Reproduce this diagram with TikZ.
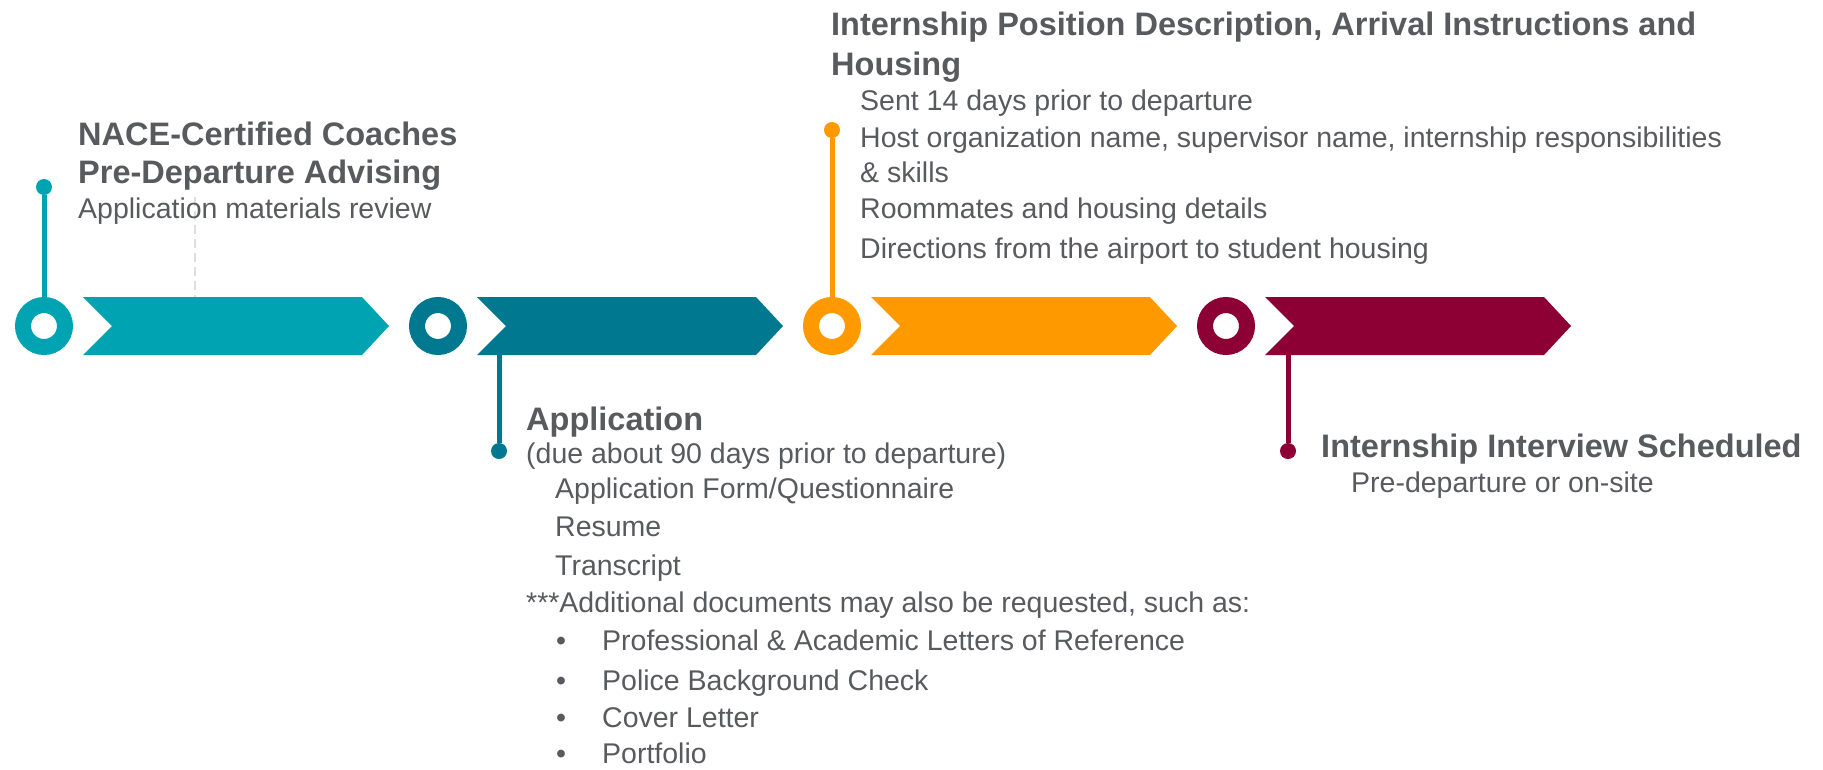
\documentclass[tikz,border=0pt]{standalone}
\usepackage{fontspec}
\setmainfont{Liberation Sans}
\usepackage{tikz}
\usetikzlibrary{positioning}
\definecolor{tealA}{RGB}{0,163,178}
\definecolor{tealB}{RGB}{0,120,143}
\definecolor{orangeC}{RGB}{255,153,0}
\definecolor{maroonD}{RGB}{140,0,52}
\definecolor{textgray}{RGB}{88,90,93}
\newcommand{\bodysize}{\fontsize{28.5}{34}\selectfont}
\newcommand{\titlesize}{\fontsize{32.5}{38}\selectfont\bfseries}
% chevron: left x, colour
\newcommand{\chevron}[2]{\fill[#2] (#1,297) -- ++(279,0) -- ++(27,29) -- ++(-27,29) -- ++(-279,0) -- ++(29,-29) -- cycle;}
\tikzset{
  ring/.style={circle, draw=#1, line width=16pt, minimum size=42pt, inner sep=0pt, fill=white},
  pin/.style={circle, fill=#1, minimum size=16pt, inner sep=0pt},
  stem/.style={line width=5pt},
  txt/.style={anchor=base west, inner sep=0pt, text=textgray, font=\bodysize},
  ttl/.style={txt, font=\titlesize}
}
\begin{document}
\begin{tikzpicture}[x=1pt,y=-1pt]
	\useasboundingbox (0,0) rectangle (1823,769);
	
	% Draw the chevrons
	\chevron{83}{tealA}
	\chevron{477}{tealB}
	\chevron{871}{orangeC}
	\chevron{1265}{maroonD}
	\draw[dash pattern=on 9pt off 5pt, line width=2.5pt, black!13] (195,197) -- (195,297);
	
	% Rings on the timeline
	\node[ring=tealA] (r1) at (44,326) {};
	\node[ring=tealB] (r2) at (438,326) {};
	\node[ring=orangeC] (r3) at (832,326) {};
	\node[ring=maroonD] (r4) at (1226,326) {};
	
	% Pins and stems
	\node[pin=tealA] (p1) at (44,187) {};
	\node[pin=tealB] (p2) at (499,451) {};
	\node[pin=orangeC] (p3) at (832,130) {};
	\node[pin=maroonD] (p4) at (1288,451) {};
	\coordinate (c2) at (499,354);
	\coordinate (c4) at (1288,354);
	\draw[stem, tealA] (r1) -- (p1);
	\draw[stem, tealB] (c2) -- (p2);
	\draw[stem, orangeC] (r3) -- (p3);
	\draw[stem, maroonD] (c4) -- (p4);
	
	% Stage 1
	\node[ttl] (t1a) at (78,145) {NACE-Certified Coaches};
	\node[ttl] (t1b) at (78,183) {Pre-Departure Advising};
	\node[txt] (t1c) at (78,218) {Application materials review};
	
	% Stage 2
	\node[ttl] (t2a) at (526,430) {Application};
	\node[txt] (t2b) at (526,463) {(due about 90 days prior to departure)};
	\node[txt] (t2c) at (555,498) {Application Form/Questionnaire};
	\node[txt] (t2d) at (555,536) {Resume};
	\node[txt] (t2e) at (555,575) {Transcript};
	\node[txt] (t2f) at (526,612) {***Additional documents may also be requested, such as:};
	\node[txt] (b1) at (556,650) {•};
	\node[txt] (t2g) at (602,650) {Professional \& Academic Letters of Reference};
	\node[txt] (b2) at (556,690) {•};
	\node[txt] (t2h) at (602,690) {Police Background Check};
	\node[txt] (b3) at (556,727) {•};
	\node[txt] (t2i) at (602,727) {Cover Letter};
	\node[txt] (b4) at (556,763) {•};
	\node[txt] (t2j) at (602,763) {Portfolio};
	
	% Stage 3
	\node[ttl] (t3a) at (831,35) {Internship Position Description, Arrival Instructions and};
	\node[ttl] (t3b) at (831,75) {Housing};
	\node[txt] (t3c) at (860,110) {Sent 14 days prior to departure};
	\node[txt] (t3d) at (860,147) {Host organization name, supervisor name, internship responsibilities};
	\node[txt] (t3e) at (860,182) {\& skills};
	\node[txt] (t3f) at (860,218) {Roommates and housing details};
	\node[txt] (t3g) at (860,258) {Directions from the airport to student housing};
	
	% Stage 4
	\node[ttl] (t4a) at (1321,457) {Internship Interview Scheduled};
	\node[txt] (t4b) at (1351,492) {Pre-departure or on-site};
\end{tikzpicture}
\end{document}
